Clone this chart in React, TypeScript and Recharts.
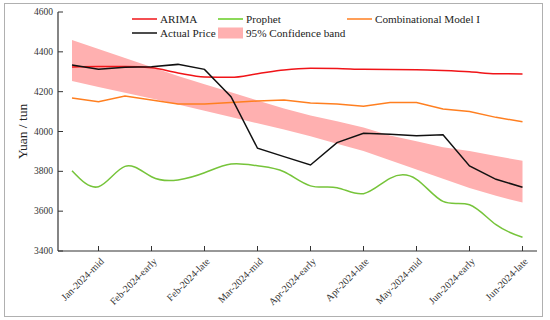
import React from 'react';
import { ComposedChart, Line, Area, XAxis, YAxis } from 'recharts';

const categories = [
  'Jan-2024-early', 'Jan-2024-mid', 'Jan-2024-late',
  'Feb-2024-early', 'Feb-2024-mid', 'Feb-2024-late',
  'Mar-2024-early', 'Mar-2024-mid', 'Mar-2024-late',
  'Apr-2024-early', 'Apr-2024-mid', 'Apr-2024-late',
  'May-2024-early', 'May-2024-mid', 'May-2024-late',
  'Jun-2024-early', 'Jun-2024-mid', 'Jun-2024-late',
];
const xTickLabels = [
  'Jan-2024-mid', 'Feb-2024-early', 'Feb-2024-late', 'Mar-2024-mid', 'Apr-2024-early',
  'Apr-2024-late', 'May-2024-mid', 'Jun-2024-early', 'Jun-2024-late',
];
const yTicks = [3400, 3600, 3800, 4000, 4200, 4400, 4600];

const arima = [4324, 4326, 4326, 4320, 4294, 4274, 4272, 4290, 4309, 4317, 4316, 4312, 4311, 4310, 4306, 4300, 4290, 4289];
const prophet = [3803, 3723, 3825, 3773, 3757, 3793, 3837, 3828, 3798, 3727, 3718, 3688, 3765, 3760, 3649, 3632, 3532, 3469];
const combined = [4168, 4150, 4178, 4158, 4138, 4138, 4145, 4153, 4158, 4143, 4138, 4127, 4145, 4145, 4113, 4100, 4071, 4049];
const actual = [4334, 4312, 4322, 4325, 4337, 4312, 4175, 3916, 3874, 3832, 3944, 3991, 3986, 3979, 3984, 3827, 3760, 3720];
const bandUpper = [4459, 4414, 4369, 4324, 4279, 4237, 4197, 4156, 4116, 4080, 4051, 4020, 3980, 3951, 3921, 3902, 3877, 3853];
const bandLower = [4254, 4224, 4195, 4166, 4136, 4104, 4073, 4041, 4010, 3976, 3939, 3902, 3856, 3809, 3763, 3716, 3677, 3643];

const data = categories.map((c, i) => ({
  name: c,
  arima: arima[i],
  prophet: prophet[i],
  combined: combined[i],
  actual: actual[i],
  band: [bandLower[i], bandUpper[i]],
}));

const FONT = '"Liberation Serif", "Times New Roman", serif';
const AXIS = '#333';

const YTick = (props: any) => {
  const { x, y, payload } = props;
  return (
    <g>
      <line x1={x} y1={y} x2={x + 5} y2={y} stroke={AXIS} strokeWidth={1} />
      <text x={x - 5} y={y} dy="0.33em" textAnchor="end" fontSize={9.5} fontFamily={FONT} fill="#333">
        {payload.value}
      </text>
    </g>
  );
};

const XTick = (props: any) => {
  const { x, y, payload } = props;
  if (!xTickLabels.includes(payload.value)) return null;
  const ax = x + 6;
  const ay = y + 11;
  return (
    <g>
      <line x1={x} y1={y} x2={x} y2={y - 5} stroke={AXIS} strokeWidth={1} />
      <text x={ax} y={ay} textAnchor="end" fontSize={10} fontFamily={FONT} fill="#333"
        transform={`rotate(-45, ${ax}, ${ay})`}>
        {payload.value}
      </text>
    </g>
  );
};

const YLabel = (props: any) => {
  const vb = props.viewBox || {};
  const cx = 22;
  const cy = (vb.y ?? 12) + (vb.height ?? 239) / 2;
  return (
    <text x={cx} y={cy} textAnchor="middle" dominantBaseline="central" fontSize={13.5} fontFamily={FONT} fill="#222"
      transform={`rotate(-90, ${cx}, ${cy})`}>
      Yuan / tun
    </text>
  );
};

const legendItems = [
  { label: 'ARIMA', color: '#f01418', type: 'line', left: 132, top: 19 },
  { label: 'Prophet', color: '#66cc22', type: 'line', left: 218, top: 19 },
  { label: 'Combinational Model I', color: '#ff7f20', type: 'line', left: 347, top: 19 },
  { label: 'Actual Price', color: '#111', type: 'line', left: 132, top: 33 },
  { label: '95% Confidence band', color: '#ffb0b0', type: 'rect', left: 218, top: 33 },
];

export default function App() {
  return (
    <div style={{ position: 'absolute', left: 0, top: 0, width: 550, height: 320, background: '#fff' }}>
      <ComposedChart width={550} height={320} data={data} margin={{ top: 12, right: 13, bottom: 0, left: 0 }}>
        <XAxis
          dataKey="name"
          interval={0}
          height={69}
          padding={{ left: 14, right: 14.5 }}
          tickLine={false}
          tickSize={0}
          tickMargin={0}
          axisLine={{ stroke: AXIS, strokeWidth: 1.2 }}
          tick={<XTick />}
        />
        <YAxis
          domain={[3400, 4600]}
          ticks={yTicks}
          width={58}
          tickLine={false}
          tickSize={0}
          tickMargin={0}
          axisLine={{ stroke: AXIS, strokeWidth: 1.2 }}
          tick={<YTick />}
          label={<YLabel />}
        />
        <Area dataKey="band" type="linear" fill="#ffb0b0" fillOpacity={1} stroke="none" isAnimationActive={false} />
        <Line dataKey="arima" type="monotone" stroke="#f01418" strokeWidth={1.5} dot={false} isAnimationActive={false} />
        <Line dataKey="combined" type="linear" stroke="#ff7f20" strokeWidth={1.5} dot={false} isAnimationActive={false} />
        <Line dataKey="prophet" type="natural" stroke="#76c43a" strokeWidth={1.5} dot={false} isAnimationActive={false} />
        <Line dataKey="actual" type="linear" stroke="#111" strokeWidth={1.5} dot={false} isAnimationActive={false} />
      </ComposedChart>
      {legendItems.map((it) => (
        <div key={it.label} style={{ position: 'absolute', left: it.left, top: it.top - 7, height: 14, display: 'flex', alignItems: 'center' }}>
          <svg width={25} height={14} style={{ display: 'block' }}>
            {it.type === 'line' ? (
              <line x1={0} y1={7} x2={25} y2={7} stroke={it.color} strokeWidth={1.5} />
            ) : (
              <rect x={0} y={1.5} width={25} height={11} fill={it.color} />
            )}
          </svg>
          <span style={{ marginLeft: 3, fontFamily: FONT, fontSize: 11.2, color: '#222', whiteSpace: 'nowrap', lineHeight: '14px' }}>
            {it.label}
          </span>
        </div>
      ))}
      <div style={{ position: 'absolute', left: 4, top: 3, width: 537, height: 312, border: '1px solid #b0b0b0', pointerEvents: 'none' }} />
    </div>
  );
}
